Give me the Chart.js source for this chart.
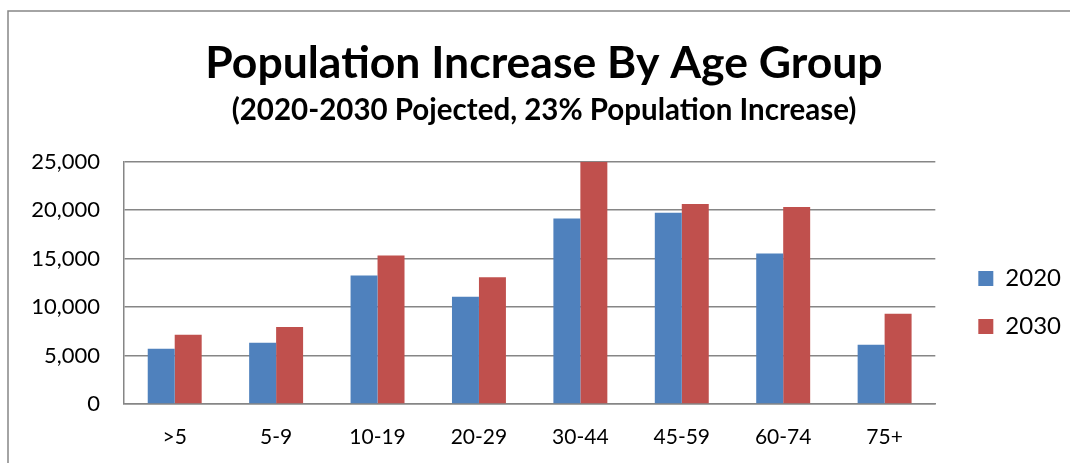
<!DOCTYPE html>
<html lang="en">
<head>
  <meta charset="UTF-8" />
  <title>Population Increase By Age Group</title>
  <script src="https://cdn.jsdelivr.net/npm/chart.js"></script>
  <style>
    html, body { margin: 0; padding: 0; background: #fff; }
    canvas { display: block; }
  </style>
</head>
<body>
  <canvas id="popChart" width="1070" height="465"></canvas>

  <script>
    // data
    const ageGroups = ['>5', '5-9', '10-19', '20-29', '30-44', '45-59', '60-74', '75+'];
    const pop2020 = [5700, 6320, 13260, 11080, 19160, 19750, 15540, 6110];
    const pop2030 = [7150, 7940, 15330, 13090, 25000, 20650, 20340, 9320];
    const yTicks = [0, 5000, 10000, 15000, 20000, 25000];

    const FONT = 'Lato, "Open Sans", sans-serif';

    // white background + the grey frame (top and left edges)
    const frame = {
      id: 'frame',
      beforeDraw(chart) {
        const c = chart.ctx;
        c.save();
        c.fillStyle = '#fff';
        c.fillRect(0, 0, chart.width, chart.height);
        c.strokeStyle = '#868686';
        c.lineWidth = 1.5;
        c.beginPath();
        c.moveTo(8, 463);
        c.lineTo(8, 11);
        c.lineTo(chart.width, 11);
        c.stroke();
        c.restore();
      }
    };

    // nudge legend and titles to where they sit in the original
    const nudge = {
      id: 'nudge',
      afterLayout(chart) {
        const lg = chart.legend;
        if (lg) {
          lg.left += 19; lg.right += 19;
          lg.top += 63; lg.bottom += 63;
        }
        chart.boxes.forEach(b => {
          if (b !== lg && b.options && typeof b.options.text === 'string') {
            b.left += 14; b.right += 14;
          }
        });
      }
    };

    new Chart(document.getElementById('popChart'), {
      type: 'bar',
      data: {
        labels: ageGroups,
        datasets: [
          { label: '2020', data: pop2020, backgroundColor: '#4F81BD' },
          { label: '2030', data: pop2030, backgroundColor: '#C0504D' }
        ]
      },
      options: {
        responsive: false,
        animation: false,
        layout: { padding: { left: 8, top: 14, right: 18, bottom: 0 } },
        datasets: { bar: { categoryPercentage: 0.532, barPercentage: 1.0 } },
        plugins: {
          title: {
            display: true,
            text: 'Population Increase By Age Group',
            color: '#000',
            font: { family: FONT, size: 44.5, weight: 'bold' },
            padding: { top: 23, bottom: 2 }
          },
          subtitle: {
            display: true,
            text: '(2020-2030 Pojected, 23% Population Increase)',
            color: '#000',
            font: { family: FONT, size: 29.5, weight: 'bold' },
            padding: { top: 0, bottom: 34 }
          },
          legend: {
            position: 'right',
            labels: {
              color: '#000',
              font: { family: FONT, size: 24 },
              boxWidth: 15,
              boxHeight: 15,
              padding: 24
            }
          },
          tooltip: { enabled: false }
        },
        scales: {
          x: {
            grid: { display: false },
            border: { display: true, color: '#868686', width: 1.5 },
            ticks: {
              color: '#000',
              font: { family: FONT, size: 21 },
              padding: 13
            },
            afterFit(scale) { scale.height = 61; }
          },
          y: {
            min: 0,
            max: 25000,
            afterBuildTicks(scale) {
              scale.ticks = yTicks.map(v => ({ value: v }));
            },
            grid: { color: '#868686', lineWidth: 1.5, drawTicks: false },
            border: { display: true, color: '#868686', width: 1.5 },
            ticks: {
              color: '#000',
              font: { family: FONT, size: 22 },
              padding: 24,
              callback: v => v.toLocaleString('en-US')
            },
            afterFit(scale) { scale.width = 116; }
          }
        }
      },
      plugins: [frame, nudge]
    });
  </script>
</body>
</html>
